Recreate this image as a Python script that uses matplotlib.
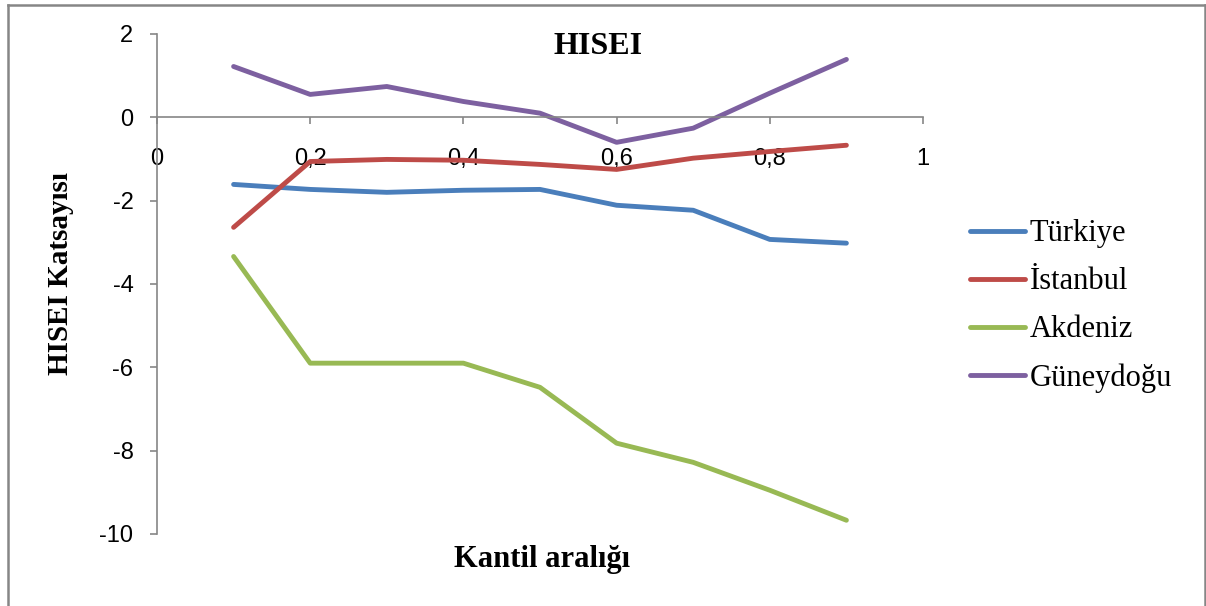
import matplotlib.pyplot as plt
from matplotlib.lines import Line2D

plt.rcParams['font.family'] = 'Liberation Sans'
plt.rcParams['axes.unicode_minus'] = False

# quantile points
kantil = [0.1, 0.2, 0.3, 0.4, 0.5, 0.6, 0.7, 0.8, 0.9]

turkiye = [-1.61, -1.73, -1.80, -1.75, -1.73, -2.11, -2.23, -2.93, -3.02]
istanbul = [-2.64, -1.06, -1.01, -1.03, -1.13, -1.25, -0.98, -0.82, -0.67]
akdeniz = [-3.34, -5.90, -5.90, -5.90, -6.48, -7.82, -8.28, -8.95, -9.67]
guneydogu = [1.22, 0.55, 0.74, 0.38, 0.10, -0.60, -0.26, 0.58, 1.39]

series = ['Türkiye', 'İstanbul', 'Akdeniz', 'Güneydoğu']
colors = ['#4a7ebb', '#be4b48', '#98b954', '#7d60a0']

x_ticks = [0, 0.2, 0.4, 0.6, 0.8, 1]
x_labels = ['0', '0,2', '0,4', '0,6', '0,8', '1']
y_ticks = [-10, -8, -6, -4, -2, 0, 2]

W, H = 1206, 606
fig = plt.figure(figsize=(W / 100, H / 100), dpi=100)
ax = fig.add_axes([157 / W, 1 - 534 / H, (923 - 157) / W, 500 / H])

for vals, name, c in zip([turkiye, istanbul, akdeniz, guneydogu], series, colors):
    ax.plot(kantil, vals, color=c, lw=3.5, label=name, solid_capstyle='round')

ax.set_xlim(0, 1)
ax.set_ylim(-10, 2)
ax.spines['top'].set_visible(False)
ax.spines['right'].set_visible(False)
ax.spines['bottom'].set_position(('data', 0))
for s in ['left', 'bottom']:
    ax.spines[s].set_color('#868686')
    ax.spines[s].set_linewidth(1.2)

ax.set_xticks(x_ticks)
ax.set_xticklabels(x_labels)
ax.set_yticks(y_ticks)
ax.tick_params(axis='x', direction='out', length=5, width=1.2, color='#868686',
               pad=17, labelsize=17)
ax.tick_params(axis='y', direction='out', length=5, width=1.2, color='#868686',
               pad=12, labelsize=17)

fig.text(598 / W, 1 - 46 / H, 'HISEI', family='Liberation Serif', weight='bold',
         size=23, ha='center', va='center')
fig.text(542 / W, 1 - 560 / H, 'Kantil aralığı', family='Liberation Serif', weight='bold',
         size=22, ha='center', va='center')
fig.text(61 / W, 1 - 274 / H, 'HISEI Katsayısı', family='Liberation Serif', weight='bold',
         size=21, ha='center', va='center', rotation=90)

ax.legend(loc='center left', bbox_to_anchor=(970 / W, 1 - 306 / H),
          bbox_transform=fig.transFigure, frameon=False, borderpad=0,
          borderaxespad=0, handlelength=1.8, handletextpad=0.15,
          labelspacing=0.62, prop={'family': 'Liberation Serif', 'size': 22})

# chart border
bc = '#868686'
fig.add_artist(Line2D([7.5 / W, 7.5 / W], [0, 1 - 5 / H], color=bc, lw=1.8))
fig.add_artist(Line2D([7.5 / W, 1204.5 / W], [1 - 5 / H, 1 - 5 / H], color=bc, lw=1.8))
fig.add_artist(Line2D([1204.5 / W, 1204.5 / W], [0, 1 - 5 / H], color=bc, lw=1.8))

fig.savefig('out.png', dpi=100)
